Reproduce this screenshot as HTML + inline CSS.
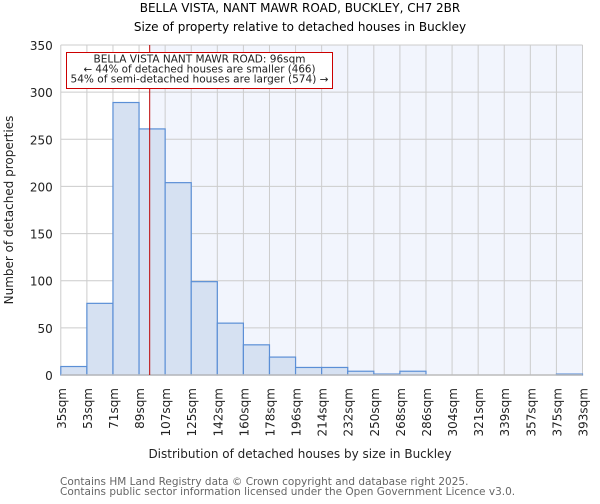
<!DOCTYPE html>
<html><head><meta charset="utf-8"><style>
body{margin:0;background:#fff;font-family:"DejaVu Sans","Liberation Sans",sans-serif}
svg text{font-family:"DejaVu Sans","Liberation Sans",sans-serif}
</style></head><body>
<svg id="c" width="600" height="500" xmlns="http://www.w3.org/2000/svg">
<text x="300" y="12" text-anchor="middle" font-size="12" fill="#000">BELLA VISTA, NANT MAWR ROAD, BUCKLEY, CH7 2BR</text>
<text x="300" y="31" text-anchor="middle" font-size="12" fill="#000">Size of property relative to detached houses in Buckley</text>
<g id="plot"></g>
<text x="300" y="458" text-anchor="middle" font-size="12" fill="#222">Distribution of detached houses by size in Buckley</text>
<text transform="translate(13,210) rotate(-90)" text-anchor="middle" font-size="12" fill="#222">Number of detached properties</text>
<text x="60" y="485" font-size="10.5" fill="#666">Contains HM Land Registry data © Crown copyright and database right 2025.</text>
<text x="60" y="495" font-size="10.5" fill="#666">Contains public sector information licensed under the Open Government Licence v3.0.</text>
</svg>
<script>
const tickLabels=["35sqm","53sqm","71sqm","89sqm","107sqm","125sqm","142sqm","160sqm","178sqm","196sqm","214sqm","232sqm","250sqm","268sqm","286sqm","304sqm","321sqm","339sqm","357sqm","375sqm","393sqm"];
const counts=[9,76,289,261,204,99,55,32,19,8,8,4,1,4,0,0,0,0,0,1];
const yTicks=[0,50,100,150,200,250,300,350];
const markerValue=96;
const NS="http://www.w3.org/2000/svg";
const L=60.8,R=582.5,T=45,B=375,yMax=350;
const bw=(R-L)/counts.length;
const xIdx=i=>L+i*bw;
const xVal=v=>{const lo=35,hi=393;return L+(v-lo)/(hi-lo)*(R-L);};
const y=v=>B-(v/yMax)*(B-T);
const g=document.getElementById('plot');
function mk(t,a){const e=document.createElementNS(NS,t);for(const k in a)e.setAttribute(k,a[k]);g.appendChild(e);return e;}
const mx=xVal(markerValue);
let e=mk('rect',{x:mx,y:T,width:R-mx,height:B-T,fill:'#f2f5fd'});


for(let i=0;i<=counts.length;i++){e=mk('line',{x1:xIdx(i),x2:xIdx(i),y1:T,y2:B,stroke:'#ccc','stroke-width':1});

}
yTicks.forEach(v=>{e=mk('line',{x1:L,x2:R,y1:y(v),y2:y(v),stroke:'#ccc','stroke-width':1});


e=mk('text',{x:L-8,y:y(v)+5,'text-anchor':'end','font-size':12,fill:'#222'});e.textContent=v;

});
counts.forEach((c,i)=>{e=mk('rect',{x:xIdx(i),y:y(c),width:bw,height:B-y(c),fill:'#d6e1f2',stroke:'#5b8fd6','stroke-width':1.2});

});
e=mk('line',{x1:L,x2:R,y1:B,y2:B,stroke:'#bbb','stroke-width':1.5});


tickLabels.forEach((t,i)=>{const tx=xIdx(i);e=mk('text',{transform:`translate(${tx+5},388) rotate(-90)`,'text-anchor':'end','font-size':12,fill:'#222'});e.textContent=t;

});
e=mk('line',{x1:mx,x2:mx,y1:T,y2:B,stroke:'#b00','stroke-width':1});


e=mk('rect',{x:66.5,y:52.5,width:266,height:36,fill:'#fff',stroke:'#c00','stroke-width':1});


["BELLA VISTA NANT MAWR ROAD: 96sqm","← 44% of detached houses are smaller (466)","54% of semi-detached houses are larger (574) →"].forEach((t,i)=>{
e=mk('text',{x:199.5,y:62.5+i*10,'text-anchor':'middle','font-size':10.2,fill:'#222',textLength:i==0?212:(i==1?232:258),lengthAdjust:'spacingAndGlyphs'});e.textContent=t;

});
</script>
</body></html>
